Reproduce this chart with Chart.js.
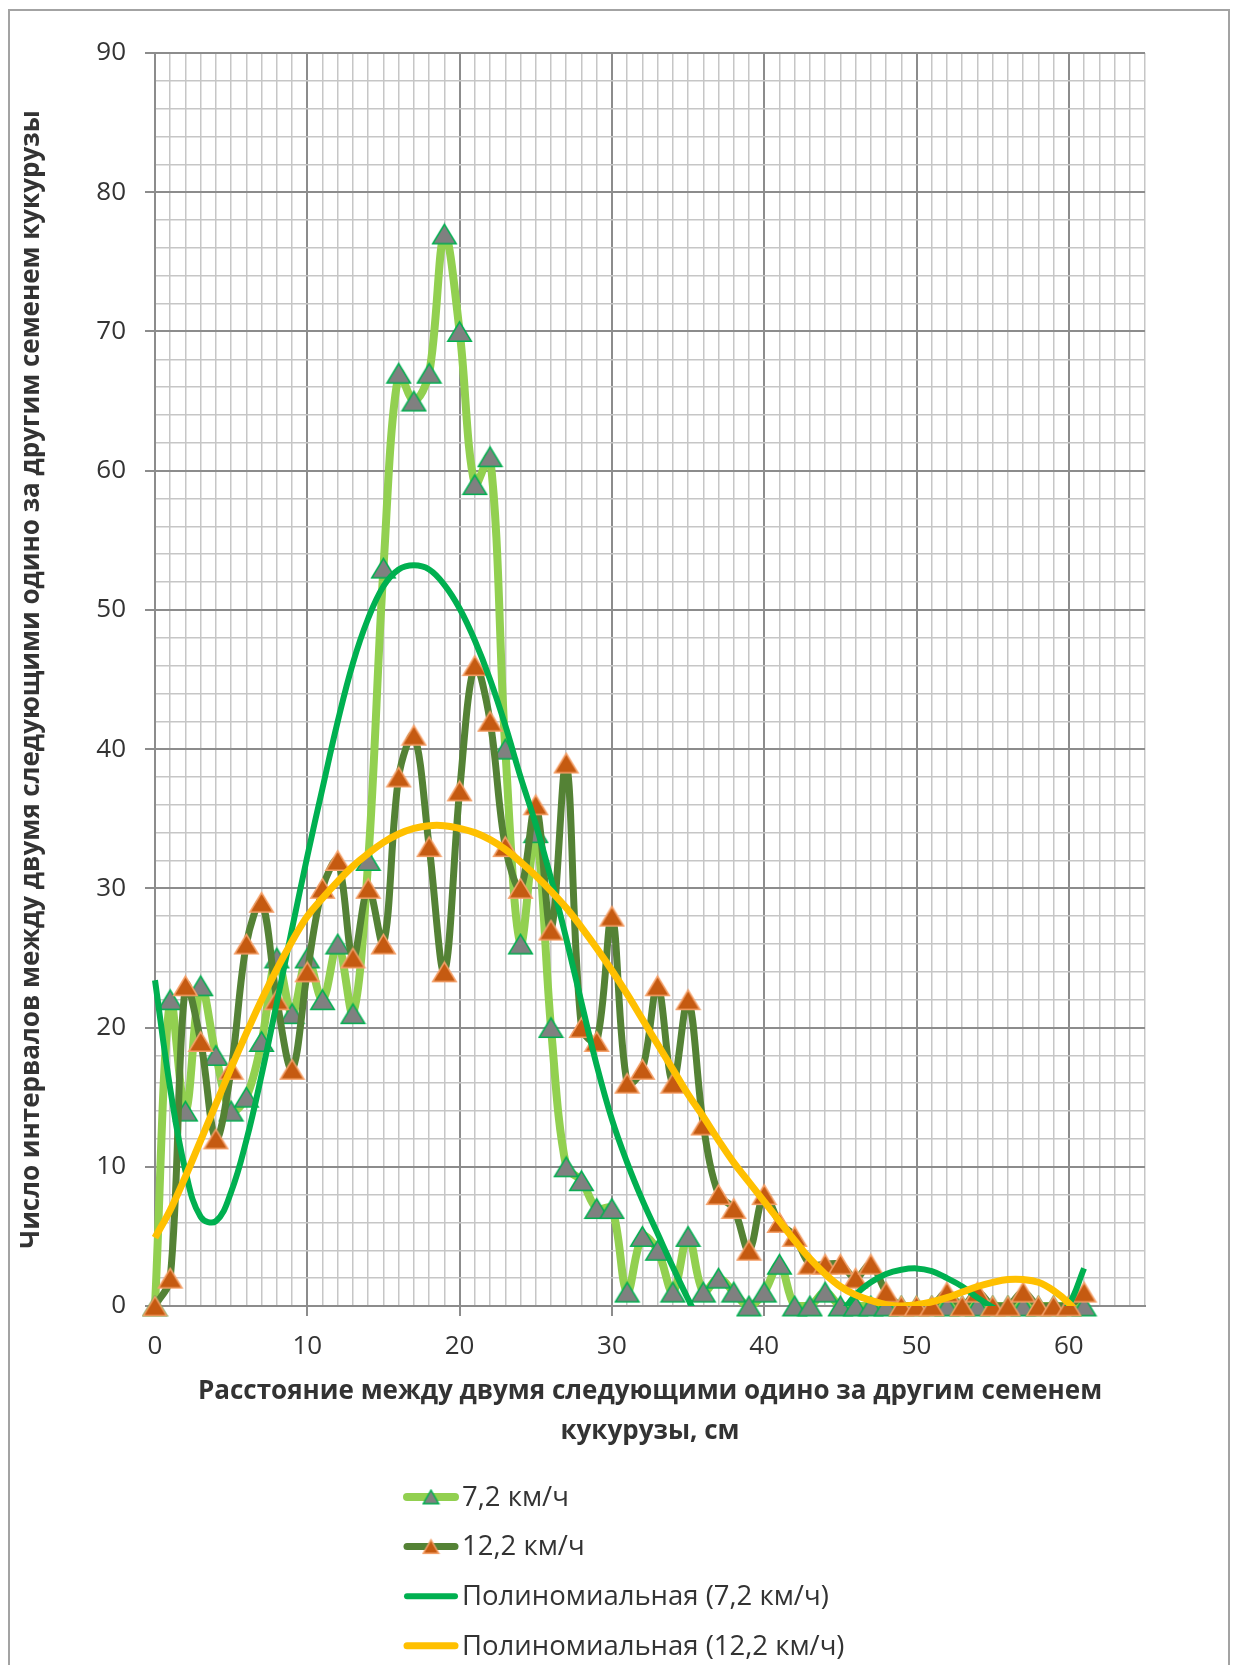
<!DOCTYPE html>
<html lang="ru">
<head>
<meta charset="utf-8">
<title>Интервалы между семенами кукурузы</title>
<script src="https://cdn.jsdelivr.net/npm/chart.js@4.4.1/dist/chart.umd.min.js"></script>
<style>
  html, body { margin: 0; padding: 0; background: #fff; }
  #chart { display: block; }
</style>
</head>
<body>
<canvas id="chart" width="1235" height="1665"></canvas>
<script>
// расстояние между семенами, см
const distanceCm = [0,1,2,3,4,5,6,7,8,9,10,11,12,13,14,15,16,17,18,19,20,21,22,23,24,25,26,27,28,29,30,
  31,32,33,34,35,36,37,38,39,40,41,42,43,44,45,46,47,48,49,50,51,52,53,54,55,56,57,58,59,60,61];

// число интервалов при 7,2 км/ч
const count72 = [0,22,14,23,18,14,15,19,25,21, 25,22,26,21,32,53,67,65,67,77, 70,59,61,40,26,34,20,10,9,7,
  7,1,5,4,1,5,1,2,1,0, 1,3,0,0,1,0,0,0,0,0, 0,0,0,0,0,0,0,0,0,0, 0,0];

// число интервалов при 12,2 км/ч
const count122 = [0,2,23,19,12,17,26,29,22,17, 24,30,32,25,30,26,38,41,33,24, 37,46,42,33,30,36,27,39,20,19,
  28,16,17,23,16,22,13,8,7,4, 8,6,5,3,3,3,2,3,1,0, 0,0,1,0,1,0,0,1,0,0, 0,1];

// полиномиальные линии тренда (значения в каждой точке)
const trend72 = [23.4,15.6,9.7,6.4,6.1,8.2,11.9,16.6,21.8,27.1, 32.3,37.2,42.0,46.2,49.4,51.7,52.9,53.2,52.9,51.8,
  50.1,47.8,45.0,41.7,38.0,34.6,30.7,26.4,21.8,17.3, 13.4,10.3,7.6,5.2,2.8,0.5,-1.6,-3.2,-4.3,-4.9,
  -5.0,-4.7,-4.0,-3.0,-1.8,-0.6,0.8,1.7,2.3,2.6, 2.7,2.5,2.0,1.4,0.6,-0.1,-0.7,-1.1,-1.2,-0.9, 0.1,2.7];
const trend122 = [4.9,6.9,9.3,11.9,14.5,17.1,19.6,22.0,24.2,26.2, 28.0,29.3,30.5,31.6,32.5,33.3,33.9,34.3,34.5,34.5,
  34.3,34.0,33.5,32.8,31.9,30.9,29.8,28.6,27.2,25.7, 24.1,22.4,20.6,18.8,17.0,15.2,13.6,11.9,10.3,8.9,
  7.5,6.1,4.7,3.4,2.3,1.4,0.8,0.4,0.1,0.0, 0.1,0.3,0.6,1.0,1.4,1.7,1.9,1.9,1.7,1.1, 0.2,-1.1];

const xTickLabels = [0,10,20,30,40,50,60];
const yTickLabels = [0,10,20,30,40,50,60,70,80,90];
const seriesNames = ['7,2 км/ч', '12,2 км/ч', 'Полиномиальная (7,2 км/ч)', 'Полиномиальная (12,2 км/ч)'];
const xTitle = ['Расстояние между двумя следующими одино за другим семенем', 'кукурузы, см'];
const yTitle = 'Число интервалов между двумя следующими одино за другим семенем кукурузы';

const FONT = '"Open Sans", "Noto Sans", sans-serif';
const TEXT = '#333333';
const GRID_MAJOR = '#8c8c8c';
const GRID_MINOR = '#c6c6c6';

// треугольный маркер, центрованный по своей рамке
function triangleMarker(w, h, fill, stroke, lw) {
  const c = document.createElement('canvas');
  c.width = w + 2; c.height = h + 2;
  const g = c.getContext('2d');
  g.beginPath();
  g.moveTo(c.width / 2, 1 + lw / 2);
  g.lineTo(c.width - 1 - lw / 2, c.height - 1 - lw / 2);
  g.lineTo(1 + lw / 2, c.height - 1 - lw / 2);
  g.closePath();
  g.fillStyle = fill; g.fill();
  g.lineWidth = lw; g.strokeStyle = stroke; g.stroke();
  return c;
}

const marker72 = triangleMarker(25, 21, '#808080', '#00B050', 1.6);
const marker122 = triangleMarker(25, 21, '#C55A11', '#F4A16A', 1.6);
const legendMarker72 = triangleMarker(17, 15, '#808080', '#00B050', 1.4);
const legendMarker122 = triangleMarker(17, 15, '#C55A11', '#F4A16A', 1.4);
const legendMarkers = [legendMarker72, legendMarker122, null, null];

const toPoints = arr => distanceCm.map((x, i) => ({ x: x, y: arr[i] }));
const isMajor = (v) => v % 10 === 0;

// рамка вокруг всей диаграммы
const frame = {
  id: 'frame',
  beforeDraw(chart) {
    const ctx = chart.ctx;
    ctx.save();
    ctx.fillStyle = '#fff';
    ctx.fillRect(0, 0, chart.width, chart.height);
    ctx.strokeStyle = '#a3a3a3';
    ctx.lineWidth = 2;
    ctx.strokeRect(9, 10, 1220, 1700);
    ctx.restore();
  }
};

// легенда столбиком под осью X
const stackedLegend = {
  id: 'stackedLegend',
  afterDraw(chart) {
    const ctx = chart.ctx;
    chart.data.datasets.forEach((ds, i) => {
      const y = 1497 + i * 49.6;
      ctx.save();
      ctx.strokeStyle = ds.borderColor;
      ctx.lineWidth = ds.borderWidth;
      ctx.lineCap = 'round';
      ctx.beginPath();
      ctx.moveTo(407, y);
      ctx.lineTo(455, y);
      ctx.stroke();
      const m = legendMarkers[i];
      if (m) ctx.drawImage(m, 431 - m.width / 2, y - m.height / 2);
      ctx.fillStyle = TEXT;
      ctx.font = '27.5px ' + FONT;
      ctx.textBaseline = 'middle';
      ctx.textAlign = 'left';
      ctx.fillText(ds.label, 462, y + 1);
      ctx.restore();
    });
  }
};

const gridOpts = {
  color: c => (c.tick && isMajor(c.tick.value)) ? GRID_MAJOR : GRID_MINOR,
  lineWidth: c => (c.tick && isMajor(c.tick.value)) ? 2 : 1.5,
  tickColor: c => (c.tick && isMajor(c.tick.value)) ? GRID_MAJOR : 'rgba(0,0,0,0)',
  tickLength: 10,
  tickWidth: 2
};

new Chart(document.getElementById('chart'), {
  type: 'line',
  data: {
    datasets: [
      {
        label: seriesNames[0],
        data: toPoints(count72),
        borderColor: '#92D050',
        borderWidth: 8,
        tension: 0.35,
        pointStyle: marker72,
        pointRadius: 12,
        pointHoverRadius: 12,
        clip: false,
        order: 4
      },
      {
        label: seriesNames[1],
        data: toPoints(count122),
        borderColor: '#548235',
        borderWidth: 7,
        tension: 0.35,
        pointStyle: marker122,
        pointRadius: 12,
        pointHoverRadius: 12,
        clip: false,
        order: 3
      },
      {
        label: seriesNames[2],
        data: toPoints(trend72),
        borderColor: '#00B050',
        borderWidth: 6,
        tension: 0.4,
        pointRadius: 0,
        clip: { left: 6, top: 6, right: 6, bottom: 0 },
        order: 2
      },
      {
        label: seriesNames[3],
        data: toPoints(trend122),
        borderColor: '#FFC000',
        borderWidth: 7,
        tension: 0.4,
        pointRadius: 0,
        clip: { left: 6, top: 6, right: 6, bottom: 0 },
        order: 1
      }
    ]
  },
  options: {
    responsive: false,
    devicePixelRatio: 1,
    animation: false,
    events: [],
    layout: { padding: { left: 16, right: 90, top: 53, bottom: 213 } },
    plugins: {
      legend: { display: false },
      tooltip: { enabled: false }
    },
    scales: {
      x: {
        type: 'linear',
        min: 0,
        max: 65,
        ticks: {
          stepSize: 1,
          autoSkip: false,
          maxRotation: 0,
          padding: 15,
          color: TEXT,
          font: { family: FONT, size: 26 },
          callback: v => xTickLabels.includes(v) ? String(v) : ''
        },
        grid: gridOpts,
        border: { color: GRID_MAJOR, width: 2 },
        title: {
          display: true,
          text: xTitle,
          color: TEXT,
          font: { family: FONT, size: 26, weight: 'bold', lineHeight: 1.54 },
          padding: { top: 0, bottom: 0 }
        },
        afterFit: s => { s.height = 146; }
      },
      y: {
        min: 0,
        max: 90,
        ticks: {
          stepSize: 2,
          autoSkip: false,
          padding: 19,
          color: TEXT,
          font: { family: FONT, size: 26 },
          callback: v => yTickLabels.includes(v) ? String(v) : ''
        },
        grid: gridOpts,
        border: { color: GRID_MAJOR, width: 2 },
        title: {
          display: true,
          text: yTitle,
          color: TEXT,
          font: { family: FONT, size: 26, weight: 'bold', lineHeight: 1.2 },
          padding: { top: 0, bottom: 0 }
        },
        afterFit: s => { s.width = 139; }
      }
    }
  },
  plugins: [frame, stackedLegend]
});
</script>
</body>
</html>
